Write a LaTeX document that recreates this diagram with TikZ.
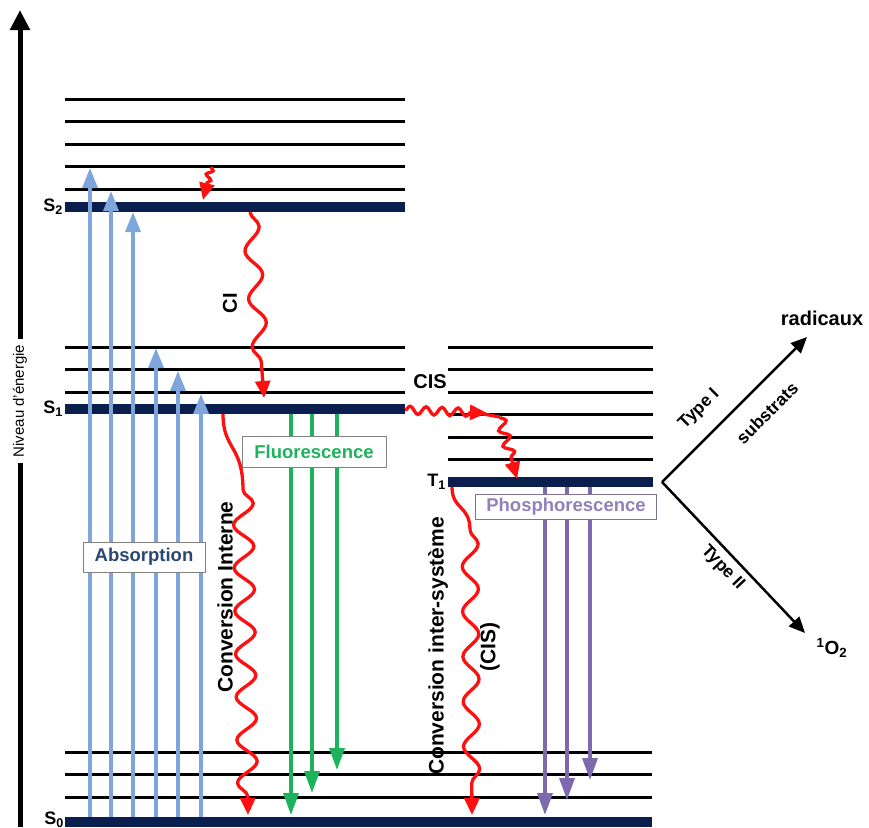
\documentclass[tikz,border=0pt]{standalone}
\usepackage{fontspec}
\setmainfont{Liberation Sans}
\usetikzlibrary{positioning,arrows.meta,decorations.pathmorphing}

\definecolor{navy}{HTML}{0B1F4E}
\definecolor{absblue}{HTML}{7EA6DD}
\definecolor{absnavy}{HTML}{2A4774}
\definecolor{fluogreen}{HTML}{1DB35C}
\definecolor{phospurple}{HTML}{7D6AAE}
\definecolor{wavered}{HTML}{FF1010}

\begin{document}
\begin{tikzpicture}[x=1pt, y=-1pt, font=\bfseries,
    vib/.style={line width=3pt},
    elec/.style={line width=10pt, navy},
    absorb/.style={line width=3.5pt, absblue, -{Triangle[width=15pt,length=20pt]}},
    fluo/.style={line width=3.5pt, fluogreen, -{Triangle[width=15pt,length=22pt]}},
    phospho/.style={line width=3.5pt, phospurple, -{Triangle[width=15pt,length=22pt]}},
    nonrad/.style 2 args={line width=3.3pt, wavered, -{Triangle[width=15pt,length=17pt]},
      decorate, decoration={snake, amplitude=#1, segment length=#2, post length=15pt}},
    statelab/.style={font=\fontsize{18}{20}\selectfont\bfseries, inner sep=1pt},
    boxlab/.style={draw=gray, fill=white, line width=1pt, inner sep=0pt,
      font=\fontsize{18.5}{20}\selectfont\bfseries},
    sidelab/.style={rotate=90, font=\fontsize{21}{24}\selectfont\bfseries},
    typelab/.style={sloped, inner sep=1pt, font=\fontsize{17.5}{19}\selectfont\bfseries}]
  \useasboundingbox (0,0) rectangle (869,827);

  % energy axis
  \draw[line width=5pt, -{Triangle[width=19pt,length=20pt]}] (20,827) -- (20,10);
  \node[rotate=90, fill=white, inner sep=6pt, font=\fontsize{15}{16}\selectfont] (axislab) at (20,401) {Niveau d'énergie};

  % vibrational levels
  \foreach \y in {99,121,144,166,189,347,369,392}
    \draw[vib] (65,\y) -- (405,\y);
  \foreach \y in {347,369,392,414,437,459}
    \draw[vib] (448,\y) -- (653,\y);
  \foreach \y in {752,774,797}
    \draw[vib] (65,\y) -- (652,\y);

  % electronic states
  \coordinate (S2l) at (65,207); \coordinate (S2r) at (405,207);
  \coordinate (S1l) at (65,409); \coordinate (S1r) at (405,409);
  \coordinate (T1l) at (448,482); \coordinate (T1r) at (653,482);
  \coordinate (S0l) at (65,822); \coordinate (S0r) at (652,822);
  \draw[elec] (S2l) -- (S2r);
  \draw[elec] (S1l) -- (S1r);
  \draw[elec] (T1l) -- (T1r);
  \draw[elec] (S0l) -- (S0r);
  \node[statelab, left=1pt of S2l] (s2) {S\textsubscript{2}};
  \node[statelab, left=1pt of S1l] (s1) {S\textsubscript{1}};
  \node[statelab, left=1pt of T1l] (t1) {T\textsubscript{1}};
  \node[statelab, left=0pt of S0l, yshift=2pt] (s0) {S\textsubscript{0}};

  % absorption
  \foreach \x/\t in {90/168, 111/191, 133/212, 156/348, 178/371, 201/394}
    \draw[absorb] (\x,817) -- (\x,\t);
  \node[boxlab, minimum width=122pt, minimum height=30pt, text=absnavy] (absorption) at (144,557) {Absorption};

  % fluorescence
  \foreach \x/\t in {291/815, 312/793, 337/770}
    \draw[fluo] (\x,414) -- (\x,\t);
  \node[boxlab, minimum width=144pt, minimum height=31pt, text=fluogreen] (fluorescence) at (314,452) {Fluorescence};

  % phosphorescence
  \foreach \x/\t in {545/815, 567/800, 590/780}
    \draw[phospho] (\x,487) -- (\x,\t);
  \node[boxlab, draw=phospurple!60!gray, minimum width=181pt, minimum height=25pt, text=phospurple!85] (phosphorescence) at (566,507) {Phosphorescence};

  % internal conversion
  \draw[nonrad={3pt}{10pt}] (211,167) -- (203,200);
  \draw[nonrad={8pt}{48pt}] (250,212) -- (264,398);
  \node[sidelab, font=\fontsize{20}{22}\selectfont\bfseries] (cilab) at (230,303) {CI};
  \draw[line width=3.3pt, wavered] (223,414) .. controls (223,450) and (243,445) .. (243,490);
  \draw[nonrad={10pt}{43pt}] (243,490) -- (248,815);
  \node[sidelab] (cilong) at (225,597) {Conversion Interne};

  % intersystem crossing
  \draw[nonrad={4pt}{16pt}] (405,410) -- (487,413);
  \draw[line width=3.3pt, wavered] (478,413) -- (500,417);
  \draw[nonrad={5pt}{16pt}] (500,417) -- (517,479);
  \node[font=\fontsize{20}{22}\selectfont\bfseries] (cislab) at (430,382) {CIS};
  \draw[line width=3.3pt, wavered] (452,487) .. controls (452,510) and (470,505) .. (470,530);
  \draw[nonrad={8pt}{45pt}] (470,530) -- (472,815);
  \node[sidelab] (cisys) at (438,646) {Conversion inter-système};
  \node[sidelab] (cisparen) at (490,647) {(CIS)};

  % photosensitised reactions
  \coordinate (vtx) at (662,482);
  \coordinate (radtip) at (807,337);
  \coordinate (oxtip) at (805,633);
  \node[font=\fontsize{20}{22}\selectfont\bfseries] (radicaux) at (822,318) {radicaux};
  \node[font=\fontsize{19}{22}\selectfont\bfseries] (oxygen) at (832,648) {\textsuperscript{1}O\textsubscript{2}};
  \draw[line width=2.5pt, -{Triangle[width=14pt,length=16pt]}] (vtx) --
    node[typelab, above=15pt, pos=0.38] {Type I}
    node[typelab, below=17pt, pos=0.6] {substrats} (radtip);
  \draw[line width=2.5pt, -{Triangle[width=14pt,length=16pt]}] (vtx) --
    node[typelab, below=5pt, pos=0.5] {Type II} (oxtip);
\end{tikzpicture}
\end{document}
